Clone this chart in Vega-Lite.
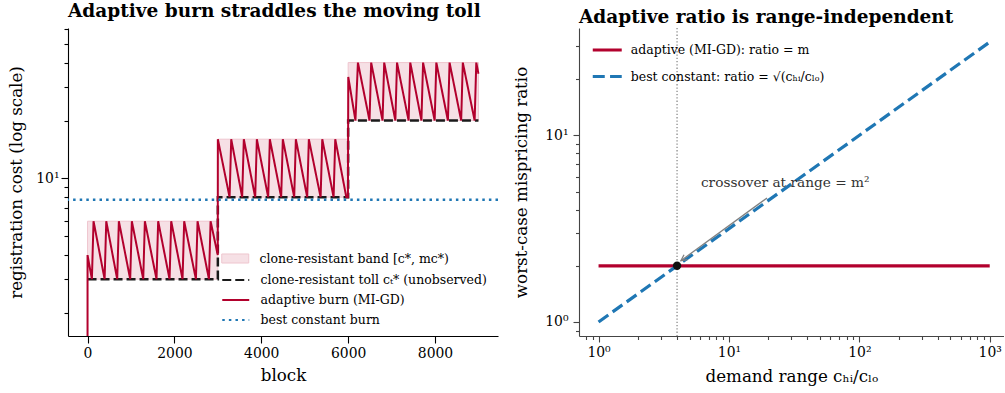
{
  "$schema": "https://vega.github.io/schema/vega-lite/v6.json",
  "padding": {"left": 8, "top": 2, "right": 0, "bottom": 0},
  "background": "white",
  "config": {
    "view": {"stroke": null},
    "font": "DejaVu Serif",
    "axis": {"grid": false, "labelFont": "DejaVu Serif", "titleFont": "DejaVu Serif", "labelFontSize": 13.9, "titleFontSize": 16.7, "titleFontWeight": "normal", "labelColor": "#000", "titleColor": "#000", "domainColor": "#000", "tickColor": "#000", "domainWidth": 1.1, "tickWidth": 1.1, "labelOverlap": false, "labelBound": false, "labelFlush": false},
    "legend": {"labelFont": "DejaVu Serif", "labelFontSize": 12.5, "labelColor": "#000", "labelLimit": 400},
    "title": {"font": "DejaVu Serif", "fontSize": 18.5, "fontWeight": "bold", "anchor": "start", "frame": "group", "offset": 1, "color": "#000"}
  },
  "spacing": 13,
  "resolve": {"scale": {"x": "independent", "y": "independent", "stroke": "independent", "strokeDash": "independent", "fill": "independent"}, "legend": {"stroke": "independent", "strokeDash": "independent", "fill": "independent"}},
  "hconcat": [
    {
      "width": 430,
      "height": 308,
      "title": {"text": "Adaptive burn straddles the moving toll"},
      "layer": [
        {
          "data": {"values": [
            {"block": 0, "block2": 3000, "cost": 3, "cost2": 6, "band": "clone-resistant band [c*, mc*)"},
            {"block": 3000, "block2": 6000, "cost": 8, "cost2": 16, "band": "clone-resistant band [c*, mc*)"},
            {"block": 6000, "block2": 9000, "cost": 20, "cost2": 40, "band": "clone-resistant band [c*, mc*)"}
          ]},
          "mark": {"type": "rect", "stroke": "#efc6cf", "strokeWidth": 1},
          "encoding": {
            "x": {"field": "block", "type": "quantitative", "scale": {"domain": [-450, 9450], "nice": false, "zero": false},
                  "axis": {"title": "block", "values": [0, 2000, 4000, 6000, 8000], "format": "d", "tickSize": 7, "labelPadding": 3, "titlePadding": 8}},
            "x2": {"field": "block2"},
            "y": {"field": "cost", "type": "quantitative", "scale": {"type": "log", "domain": [1.52, 60.5], "nice": false},
                  "axis": {"title": "registration cost (log scale)", "values": [2, 3, 4, 5, 6, 7, 8, 9, 10, 20, 30, 40, 50, 60],
                           "labelExpr": "datum.value == 10 ? '10¹' : ''",
                           "tickSize": {"condition": {"test": "datum.value == 10", "value": 7}, "value": 4},
                           "labelPadding": 2, "titlePadding": 10}},
            "y2": {"field": "cost2"},
            "fill": {"field": "band", "type": "nominal", "scale": {"range": ["#f6e0e5"]},
                     "legend": {"orient": "none", "legendX": 159.75, "legendY": 223, "title": null, "symbolType": "M-2,-0.67H2V0.67H-2Z", "symbolSize": 182, "labelOffset": 16.75, "padding": 0, "symbolStrokeColor": "#efc6cf", "symbolStrokeWidth": 1}}
          }
        },
        {
          "data": {"values": [
            {"i": 0, "block": 0, "cost": 3, "series": "clone-resistant toll cₜ* (unobserved)"},
            {"i": 1, "block": 3000, "cost": 3, "series": "clone-resistant toll cₜ* (unobserved)"},
            {"i": 2, "block": 3000, "cost": 8, "series": "clone-resistant toll cₜ* (unobserved)"},
            {"i": 3, "block": 6000, "cost": 8, "series": "clone-resistant toll cₜ* (unobserved)"},
            {"i": 4, "block": 6000, "cost": 20, "series": "clone-resistant toll cₜ* (unobserved)"},
            {"i": 5, "block": 9000, "cost": 20, "series": "clone-resistant toll cₜ* (unobserved)"}
          ]},
          "mark": {"type": "line", "strokeWidth": 2.5, "clip": true},
          "encoding": {
            "x": {"field": "block", "type": "quantitative"},
            "y": {"field": "cost", "type": "quantitative"},
            "order": {"field": "i", "type": "quantitative"},
            "stroke": {"field": "series", "type": "nominal",
                       "scale": {"domain": ["clone-resistant toll cₜ* (unobserved)", "adaptive burn (MI-GD)", "best constant burn"], "range": ["#1a1a1a", "#b2002d", "#1f77b4"]},
                       "legend": {"orient": "none", "legendX": 159.75, "legendY": 244, "title": null, "symbolType": "M-2,0H2", "symbolSize": 182, "symbolStrokeWidth": 2.2, "labelOffset": 16.75, "rowPadding": 5, "padding": 0}},
            "strokeDash": {"field": "series", "type": "nominal",
                           "scale": {"domain": ["clone-resistant toll cₜ* (unobserved)", "adaptive burn (MI-GD)", "best constant burn"], "range": [[9, 4], [1, 0], [2.5, 4.1]]},
                           "legend": {"orient": "none", "legendX": 159.75, "legendY": 244, "title": null, "symbolType": "M-2,0H2", "symbolSize": 182, "symbolStrokeWidth": 2.2, "labelOffset": 16.75, "rowPadding": 5, "padding": 0}}
          }
        },
        {
          "data": {"values": [
            {"i": 0, "block": 0, "cost": 1.0}, {"i": 1, "block": 0, "cost": 4.0}, {"i": 2, "block": 100, "cost": 3}, {"i": 3, "block": 138, "cost": 6},
            {"i": 4, "block": 393, "cost": 3}, {"i": 5, "block": 431, "cost": 6},
            {"i": 6, "block": 683, "cost": 3}, {"i": 7, "block": 721, "cost": 6},
            {"i": 8, "block": 982, "cost": 3}, {"i": 9, "block": 1020, "cost": 6},
            {"i": 10, "block": 1282, "cost": 3}, {"i": 11, "block": 1320, "cost": 6},
            {"i": 12, "block": 1588, "cost": 3}, {"i": 13, "block": 1626, "cost": 6},
            {"i": 14, "block": 1888, "cost": 3}, {"i": 15, "block": 1926, "cost": 6},
            {"i": 16, "block": 2187, "cost": 3}, {"i": 17, "block": 2225, "cost": 6},
            {"i": 18, "block": 2495, "cost": 3}, {"i": 19, "block": 2533, "cost": 6},
            {"i": 20, "block": 2795, "cost": 3}, {"i": 21, "block": 2833, "cost": 6},
            {"i": 22, "block": 2998, "cost": 4.0},
            {"i": 23, "block": 3000, "cost": 16},
            {"i": 24, "block": 3270, "cost": 8}, {"i": 25, "block": 3308, "cost": 16},
            {"i": 26, "block": 3560, "cost": 8}, {"i": 27, "block": 3598, "cost": 16},
            {"i": 28, "block": 3860, "cost": 8}, {"i": 29, "block": 3898, "cost": 16},
            {"i": 30, "block": 4159, "cost": 8}, {"i": 31, "block": 4197, "cost": 16},
            {"i": 32, "block": 4458, "cost": 8}, {"i": 33, "block": 4496, "cost": 16},
            {"i": 34, "block": 4758, "cost": 8}, {"i": 35, "block": 4796, "cost": 16},
            {"i": 36, "block": 5057, "cost": 8}, {"i": 37, "block": 5095, "cost": 16},
            {"i": 38, "block": 5366, "cost": 8}, {"i": 39, "block": 5404, "cost": 16},
            {"i": 40, "block": 5665, "cost": 8}, {"i": 41, "block": 5703, "cost": 16},
            {"i": 42, "block": 5958, "cost": 8}, {"i": 43, "block": 5995, "cost": 8},
            {"i": 44, "block": 6003, "cost": 33.7},
            {"i": 45, "block": 6168, "cost": 20}, {"i": 46, "block": 6225, "cost": 40},
            {"i": 47, "block": 6492, "cost": 20}, {"i": 48, "block": 6530, "cost": 40},
            {"i": 49, "block": 6792, "cost": 20}, {"i": 50, "block": 6830, "cost": 40},
            {"i": 51, "block": 7087, "cost": 20}, {"i": 52, "block": 7125, "cost": 40},
            {"i": 53, "block": 7392, "cost": 20}, {"i": 54, "block": 7430, "cost": 40},
            {"i": 55, "block": 7687, "cost": 20}, {"i": 56, "block": 7725, "cost": 40},
            {"i": 57, "block": 7992, "cost": 20}, {"i": 58, "block": 8030, "cost": 40},
            {"i": 59, "block": 8297, "cost": 20}, {"i": 60, "block": 8335, "cost": 40},
            {"i": 61, "block": 8602, "cost": 20}, {"i": 62, "block": 8640, "cost": 40},
            {"i": 63, "block": 8912, "cost": 20}, {"i": 64, "block": 8950, "cost": 40},
            {"i": 65, "block": 9000, "cost": 35}
          ]},
          "transform": [{"calculate": "'adaptive burn (MI-GD)'", "as": "series"}],
          "mark": {"type": "line", "strokeWidth": 2, "clip": true},
          "encoding": {
            "x": {"field": "block", "type": "quantitative"},
            "y": {"field": "cost", "type": "quantitative"},
            "order": {"field": "i", "type": "quantitative"},
            "stroke": {"field": "series", "type": "nominal"},
            "strokeDash": {"field": "series", "type": "nominal"}
          }
        },
        {
          "data": {"values": [{"cost": 7.75, "series": "best constant burn"}]},
          "mark": {"type": "rule", "strokeWidth": 2.5},
          "encoding": {
            "y": {"field": "cost", "type": "quantitative"},
            "stroke": {"field": "series", "type": "nominal"},
            "strokeDash": {"field": "series", "type": "nominal"}
          }
        }
      ]
    },
    {
      "width": 425,
      "height": 308,
      "title": {"text": "Adaptive ratio is range-independent"},
      "layer": [
        {
          "data": {"values": [{"range": 4}]},
          "mark": {"type": "rule", "color": "#808080", "strokeWidth": 1.2, "strokeDash": [1.3, 2]},
          "encoding": {
            "x": {"field": "range", "type": "quantitative", "scale": {"type": "log", "domain": [0.708, 1287], "nice": false},
                  "axis": {"title": "demand range cₕᵢ/cₗₒ", "domainColor": "#444", "tickColor": "#444",
                           "values": [0.8, 0.9, 1, 2, 3, 4, 5, 6, 7, 8, 9, 10, 20, 30, 40, 50, 60, 70, 80, 90, 100, 200, 300, 400, 500, 600, 700, 800, 900, 1000],
                           "labelExpr": "datum.value == 1 ? '10⁰' : datum.value == 10 ? '10¹' : datum.value == 100 ? '10²' : datum.value == 1000 ? '10³' : ''",
                           "tickSize": {"condition": {"test": "datum.value == 1 || datum.value == 10 || datum.value == 100 || datum.value == 1000", "value": 6}, "value": 3.5},
                           "labelPadding": 3, "titlePadding": 10}}
          }
        },
        {
          "data": {"values": [
            {"range": 1, "ratio": 2, "rseries": "adaptive (MI-GD): ratio = m"},
            {"range": 1000, "ratio": 2, "rseries": "adaptive (MI-GD): ratio = m"},
            {"range": 1, "ratio": 1, "rseries": "best constant: ratio = √(cₕᵢ/cₗₒ)"},
            {"range": 1000, "ratio": 31.62, "rseries": "best constant: ratio = √(cₕᵢ/cₗₒ)"}
          ]},
          "mark": {"type": "line", "strokeWidth": 3.2},
          "encoding": {
            "x": {"field": "range", "type": "quantitative"},
            "y": {"field": "ratio", "type": "quantitative", "scale": {"type": "log", "domain": [0.841, 37.6], "nice": false},
                  "axis": {"title": "worst-case mispricing ratio", "domainColor": "#444", "tickColor": "#444",
                           "values": [0.9, 1, 2, 3, 4, 5, 6, 7, 8, 9, 10, 20, 30],
                           "labelExpr": "datum.value == 1 ? '10⁰' : datum.value == 10 ? '10¹' : ''",
                           "tickSize": {"condition": {"test": "datum.value == 1 || datum.value == 10", "value": 6}, "value": 3.5},
                           "labelPadding": 5, "titlePadding": 14}},
            "stroke": {"field": "rseries", "type": "nominal",
                       "scale": {"domain": ["adaptive (MI-GD): ratio = m", "best constant: ratio = √(cₕᵢ/cₗₒ)"], "range": ["#b2002d", "#1f77b4"]},
                       "legend": {"orient": "none", "legendX": 19.25, "legendY": 13, "title": null, "symbolType": "M-2,0H2", "symbolSize": 210, "symbolStrokeWidth": 3.2, "labelOffset": 14.5, "rowPadding": 10.5, "padding": 0}},
            "strokeDash": {"field": "rseries", "type": "nominal",
                           "scale": {"domain": ["adaptive (MI-GD): ratio = m", "best constant: ratio = √(cₕᵢ/cₗₒ)"], "range": [[1, 0], [12, 5.3]]},
                           "legend": {"orient": "none", "legendX": 19.25, "legendY": 13, "title": null, "symbolType": "M-2,0H2", "symbolSize": 210, "symbolStrokeWidth": 3.2, "labelOffset": 14.5, "rowPadding": 10.5, "padding": 0}}
          }
        },
        {
          "data": {"values": [{"x0": 19.6, "y0": 4.62, "x1": 4.28, "y1": 2.13}]},
          "mark": {"type": "rule", "color": "#808080", "strokeWidth": 1.3},
          "encoding": {
            "x": {"field": "x0", "type": "quantitative"},
            "y": {"field": "y0", "type": "quantitative"},
            "x2": {"field": "x1"},
            "y2": {"field": "y1"}
          }
        },
        {
          "data": {"values": [{"range": 4.47, "ratio": 2.176}]},
          "mark": {"type": "point", "shape": "M-1,1L0,-1L1,1", "size": 36, "filled": false, "stroke": "#808080", "strokeWidth": 1.3, "angle": 234, "opacity": 1},
          "encoding": {
            "x": {"field": "range", "type": "quantitative"},
            "y": {"field": "ratio", "type": "quantitative"}
          }
        },
        {
          "data": {"values": [{"range": 4, "ratio": 2}]},
          "mark": {"type": "circle", "size": 70, "color": "#111", "opacity": 1},
          "encoding": {
            "x": {"field": "range", "type": "quantitative"},
            "y": {"field": "ratio", "type": "quantitative"}
          }
        },
        {
          "data": {"values": [{"range": 6.1, "ratio": 5.57, "label": "crossover at range = m²"}]},
          "mark": {"type": "text", "align": "left", "baseline": "middle", "font": "DejaVu Serif", "fontSize": 13.7, "color": "#333"},
          "encoding": {
            "x": {"field": "range", "type": "quantitative"},
            "y": {"field": "ratio", "type": "quantitative"},
            "text": {"field": "label"}
          }
        }
      ]
    }
  ]
}
